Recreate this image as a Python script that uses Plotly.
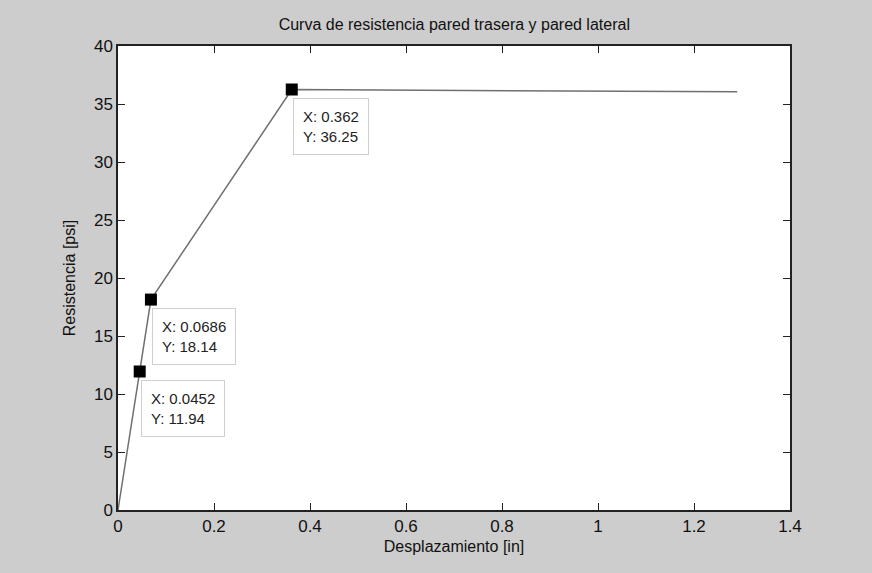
import plotly.graph_objects as go

x_vals = [0.0, 0.0452, 0.0686, 0.362, 1.29]
y_vals = [0.0, 11.94, 18.14, 36.25, 36.05]
marker_x = [0.0452, 0.0686, 0.362]
marker_y = [11.94, 18.14, 36.25]
tip_labels = ["X: 0.0452<br>Y: 11.94", "X: 0.0686<br>Y: 18.14", "X: 0.362<br>Y: 36.25"]
x_ticks = [0, 0.2, 0.4, 0.6, 0.8, 1, 1.2, 1.4]
x_ticktext = ["0", "0.2", "0.4", "0.6", "0.8", "1", "1.2", "1.4"]
y_ticks = [0, 5, 10, 15, 20, 25, 30, 35, 40]

FONT = "Liberation Sans, Arial, sans-serif"

fig = go.Figure()
fig.add_trace(go.Scatter(x=x_vals, y=y_vals, mode="lines",
                         line=dict(color="#707070", width=1.5), showlegend=False))
fig.add_trace(go.Scatter(x=marker_x, y=marker_y, mode="markers",
                         marker=dict(symbol="square", size=12, color="black"), showlegend=False))

for xv, yv, t in zip(marker_x, marker_y, tip_labels):
    fig.add_annotation(x=xv, y=yv, xref="x", yref="y", text=t, showarrow=False,
                       xanchor="left", yanchor="top", xshift=1, yshift=-8, align="left",
                       font=dict(family=FONT, size=15, color="#222"),
                       bgcolor="white", bordercolor="#cfcfcf", borderwidth=1, borderpad=9)

fig.update_layout(
    width=872, height=573,
    paper_bgcolor="#cdcdcd", plot_bgcolor="white",
    margin=dict(l=118, r=82, t=46, b=63),
    font=dict(family=FONT, size=16, color="#111"),
    title=dict(text="Curva de resistencia pared trasera y pared lateral",
               x=0.521, xanchor="center", y=0.957, yanchor="middle",
               font=dict(family=FONT, size=16, color="#111")),
)
fig.update_xaxes(range=[0, 1.4], tickvals=x_ticks, ticktext=x_ticktext,
                 ticks="inside", ticklen=7, tickcolor="#222", showgrid=False, zeroline=False,
                 showline=True, linecolor="#222", linewidth=1.5, mirror="ticks",
                 title=dict(text="Desplazamiento [in]", standoff=6, font=dict(size=16)),
                 tickfont=dict(size=17))
fig.update_yaxes(range=[0, 40], tickvals=y_ticks,
                 ticks="inside", ticklen=7, tickcolor="#222", showgrid=False, zeroline=False,
                 showline=True, linecolor="#222", linewidth=1.5, mirror="ticks",
                 title=dict(text="Resistencia [psi]", standoff=14, font=dict(size=16)),
                 tickfont=dict(size=17))

fig.write_html("out.html")
